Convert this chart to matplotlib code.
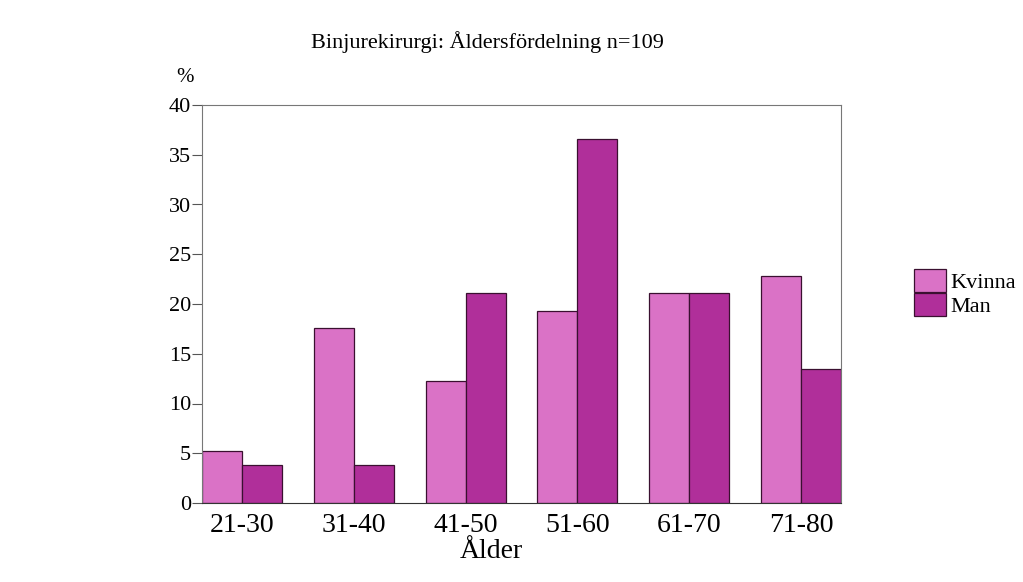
import numpy as np
import matplotlib.pyplot as plt

# Data
groups = ["21-30", "31-40", "41-50", "51-60", "61-70", "71-80"]
kvinna = [5.2, 17.6, 12.3, 19.3, 21.1, 22.8]
man = [3.8, 3.8, 21.1, 36.6, 21.1, 13.5]

plt.rcParams["font.family"] = ["Liberation Serif", "DejaVu Serif"]

fig = plt.figure(figsize=(10.23, 5.82), dpi=100)
ax = fig.add_axes([202 / 1023, 1 - 503 / 582, 639 / 1023, 398 / 582])

x = np.arange(len(groups))
w = 0.358
edge = "#3a1030"
b1 = ax.bar(x - w / 2, kvinna, w, color="#da72c6", edgecolor=edge, linewidth=0.9, label="Kvinna")
b2 = ax.bar(x + w / 2, man, w, color="#b02f9a", edgecolor=edge, linewidth=0.9, label="Man")

ax.set_xlim(-w, len(groups) - 1 + w)
ax.set_ylim(0, 40)
ax.set_yticks(range(0, 41, 5))
ax.tick_params(axis="y", labelsize=16, length=7, color="#555555", pad=1)
ax.set_xticks(x)
ax.set_xticklabels(groups, fontsize=20)
ax.tick_params(axis="x", length=0, pad=7)

for s in ["left", "top", "right"]:
    ax.spines[s].set_color("#777777")
ax.spines["bottom"].set_color("#333333")

fig.text(491 / 1023, 1 - 552 / 582, "Ålder", fontsize=20, ha="center", va="center")
fig.text(185 / 1023, 1 - 78 / 582, "%", fontsize=15, ha="center", va="center")
fig.text(487 / 1023, 1 - 42 / 582, "Binjurekirurgi: Åldersfördelning n=109", fontsize=16,
         ha="center", va="center")

fig.legend(handles=[b1, b2], loc="center left", bbox_to_anchor=(914 / 1023, 1 - 293 / 582),
           frameon=False, fontsize=16, handlelength=1.45, handleheight=1.2,
           handletextpad=0.2, labelspacing=0.0, borderpad=0, borderaxespad=0)

fig.savefig("out.png", dpi=100)
